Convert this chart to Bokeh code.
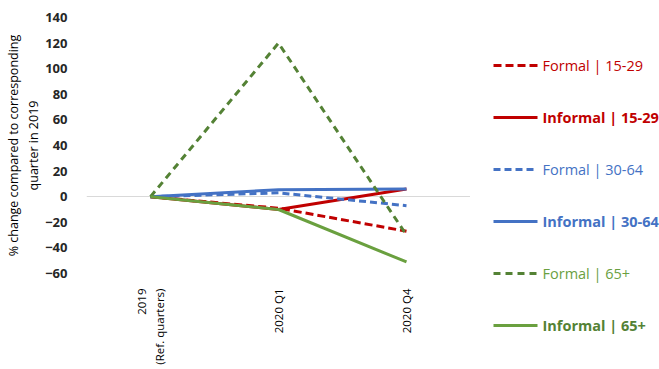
from bokeh.plotting import figure
from bokeh.layouts import row
from bokeh.models import Range1d, FactorRange, SingleIntervalTicker, FixedTicker
from bokeh.core.properties import value
from bokeh.embed import file_html
from bokeh.resources import INLINE

categories = ["2019\n(Ref. quarters)", "2020 Q1", "2020 Q4"]
series_names = ["Formal | 15-29", "Informal | 15-29", "Formal | 30-64",
                "Informal | 30-64", "Formal | 65+", "Informal | 65+"]
formal_15_29 = [0, -9, -27]
informal_15_29 = [0, -10, 6]
formal_30_64 = [0, 3, -7]
informal_30_64 = [0, 5.5, 6]
formal_65 = [0, 120, -30]
informal_65 = [0, -10, -51]

series_values = [formal_15_29, informal_15_29, formal_30_64,
                 informal_30_64, formal_65, informal_65]
line_colors = ["#c00000", "#c00000", "#4472c4", "#4472c4", "#548235", "#6aa03f"]
text_colors = ["#c00000", "#c00000", "#4472c4", "#4472c4", "#6aa03f", "#548235"]
dashes = ["8 4", "solid", "7 4", "solid", "7 5", "solid"]
bold = [False, True, False, True, False, True]

FONT = "Open Sans"

p = figure(x_range=FactorRange(*categories), y_range=Range1d(-60, 140),
           width=470, height=369, output_backend="svg", toolbar_location=None,
           min_border_left=86, min_border_right=0, min_border_top=17,
           min_border_bottom=96)
p.frame_align = False
p.outline_line_color = None
p.background_fill_color = "white"
p.border_fill_color = "white"
p.x_range.range_padding = 0

p.xgrid.grid_line_color = None
p.ygrid.ticker = FixedTicker(ticks=[0])
p.ygrid.grid_line_color = "#d9d9d9"
p.ygrid.grid_line_width = 1

p.yaxis.ticker = SingleIntervalTicker(interval=20)
p.yaxis.axis_line_color = None
p.yaxis.major_tick_line_color = None
p.yaxis.minor_tick_line_color = None
p.yaxis.major_label_text_font = FONT
p.yaxis.major_label_text_font_style = "bold"
p.yaxis.major_label_text_font_size = "13px"
p.yaxis.major_label_text_color = "#262626"
p.yaxis.major_label_standoff = 13
p.yaxis.axis_label = "% change compared to corresponding\nquarter in 2019"
p.yaxis.axis_label_text_font = FONT
p.yaxis.axis_label_text_font_style = "normal"
p.yaxis.axis_label_text_font_size = "12.5px"
p.yaxis.axis_label_text_color = "#000000"
p.yaxis.axis_label_standoff = 0

p.xaxis.axis_line_color = None
p.xaxis.major_tick_line_color = None
p.xaxis.minor_tick_line_color = None
p.xaxis.major_label_orientation = 1.5708
p.xaxis.major_label_text_font = FONT
p.xaxis.major_label_text_font_size = "11.5px"
p.xaxis.major_label_text_color = "#000000"
p.xaxis.major_label_standoff = 9

for vals, col, dash in zip(series_values, line_colors, dashes):
    p.line(x=categories, y=vals, line_color=col, line_width=3, line_dash=dash)

# legend drawn in its own small figure; entry i sits at row index i
n = len(series_names)
LG_H = 369
first, step = 65, 52      # pixel centre of first entry and spacing
lg = figure(x_range=Range1d(0, 189),
            y_range=Range1d((LG_H - first) / step, -first / step),
            width=189, height=LG_H, output_backend="svg", toolbar_location=None,
            min_border=0)
lg.frame_align = False
lg.axis.visible = False
lg.grid.visible = False
lg.outline_line_color = None
for i in range(n):
    lg.line(x=[23, 67], y=[i, i], line_color=line_colors[i], line_width=3,
            line_dash=dashes[i])
    lg.text(x=[72], y=[i], text=[series_names[i]], text_color=text_colors[i],
            text_font=value(FONT), text_font_size="14.5px",
            text_font_style="bold" if bold[i] else "normal",
            text_baseline="middle", text_align="left")

layout = row(p, lg)
open("out.html", "w").write(file_html(layout, INLINE))
